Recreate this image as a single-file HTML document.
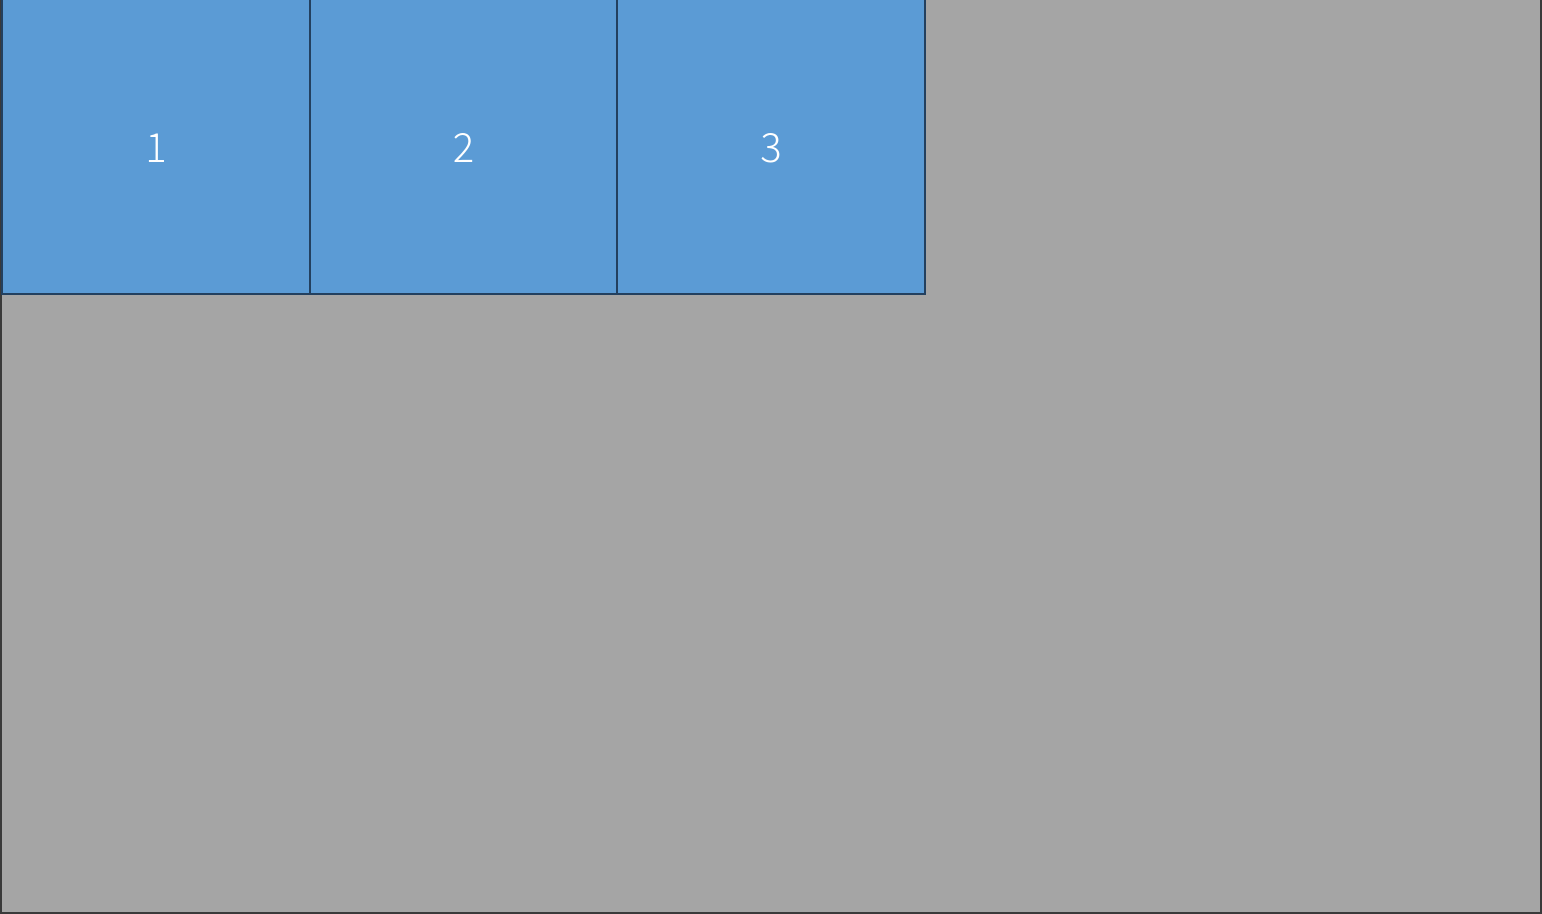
<!DOCTYPE html>
<html><head><meta charset="utf-8"><style>
html,body{margin:0;padding:0;width:1542px;height:914px;overflow:hidden;background:#a5a5a5;}
#frame{position:absolute;left:0;top:0;width:1538px;height:912px;border:2px solid #3a3a3a;border-top:none;background:#a5a5a5;}
.box{position:absolute;top:0;height:293px;background:#5b9bd5;border:2px solid #23405f;border-top:none;box-sizing:content-box;
display:flex;align-items:center;justify-content:center;color:#fff;font-weight:300;font-size:40px;font-family:"Noto Sans CJK SC","Liberation Sans",sans-serif;}
.box span{position:relative;top:-2px;}
</style></head><body>
<div id="frame"></div>
<div class="box" style="left:1px;width:306px;"><span>1</span></div>
<div class="box" style="left:309px;width:305px;"><span>2</span></div>
<div class="box" style="left:616px;width:306px;"><span>3</span></div>
</body></html>
